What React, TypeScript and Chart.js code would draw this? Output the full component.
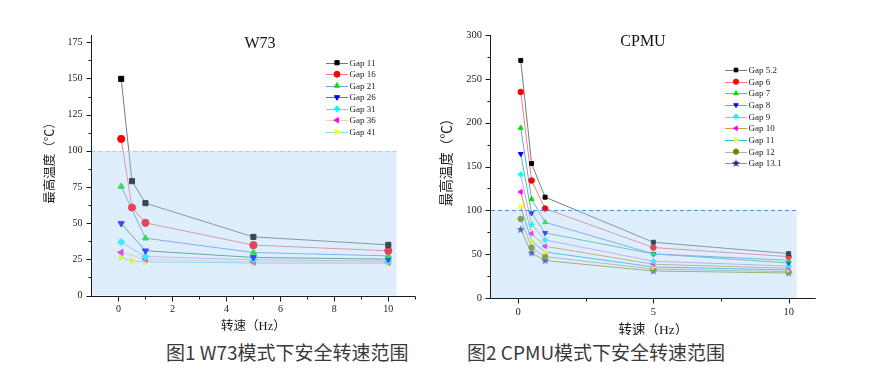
import React, { useEffect, useRef } from 'react';
import { Chart, registerables } from 'chart.js';
import { drawPoint } from 'chart.js/helpers';

Chart.register(...registerables);

// ---------------- Data: W73 ----------------
const W73_SPEEDS_FULL = [0.1, 0.5, 1, 5, 10];
const W73_SPEEDS_SHORT = [0.1, 1, 5, 10];
const W73_GAP11 = [149.7, 79, 63.8, 40.5, 35];
const W73_GAP16 = [108.2, 60.8, 50.2, 34.8, 30.9];
const W73_GAP21 = [75.3, 39.6, 29.7, 27.4];
const W73_GAP26 = [49.8, 30.9, 26.3, 25.1];
const W73_GAP31 = [36.9, 26.9, 24.7, 23.7];
const W73_GAP36 = [29.8, 25.1, 23.2, 23.0];
const W73_GAP41 = [26.2, 23.8, 23.3, 22.4, 22.3];
const W73_LABELS = ['Gap 11', 'Gap 16', 'Gap 21', 'Gap 26', 'Gap 31', 'Gap 36', 'Gap 41'];
const W73_X_TICKS = [0, 2, 4, 6, 8, 10];
const W73_Y_TICKS = [0, 25, 50, 75, 100, 125, 150, 175];

// ---------------- Data: CPMU ----------------
const CPMU_SPEEDS = [0.1, 0.5, 1, 5, 10];
const CPMU_GAP5_2 = [271, 153.4, 115, 63.6, 50.7];
const CPMU_GAP6 = [235, 134, 102, 57.5, 47.2];
const CPMU_GAP7 = [194, 112.7, 86.4, 50.3, 43];
const CPMU_GAP8 = [164.4, 96.7, 74.2, 50.3, 40];
const CPMU_GAP9 = [140.9, 83.8, 66.2, 41.9, 36.5];
const CPMU_GAP10 = [121, 73.5, 59, 38.5, 34];
const CPMU_GAP11 = [104, 65, 52.5, 35.4, 32];
const CPMU_GAP12 = [90.2, 57.5, 47.2, 33, 30];
const CPMU_GAP13_1 = [78, 51.4, 42.7, 30.8, 28.5];
const CPMU_LABELS = ['Gap 5.2', 'Gap 6', 'Gap 7', 'Gap 8', 'Gap 9', 'Gap 10', 'Gap 11', 'Gap 12', 'Gap 13.1'];
const CPMU_X_TICKS = [0, 5, 10];
const CPMU_Y_TICKS = [0, 50, 100, 150, 200, 250, 300];

const SAFE_LIMIT = 100;
const SAFE_SPEED_END = 10.3;

function makeStar(color: string) {
  const c = document.createElement('canvas');
  c.width = 9;
  c.height = 9;
  const ctx = c.getContext('2d')!;
  ctx.fillStyle = color;
  ctx.beginPath();
  for (let i = 0; i < 10; i++) {
    const r = i % 2 === 0 ? 4.2 : 1.8;
    const a = -Math.PI / 2 + (i * Math.PI) / 5;
    const px = 4.5 + r * Math.cos(a);
    const py = 4.5 + r * Math.sin(a);
    if (i === 0) ctx.moveTo(px, py);
    else ctx.lineTo(px, py);
  }
  ctx.closePath();
  ctx.fill();
  return c;
}

type Series = {
  label: string;
  speeds: number[];
  temps: number[];
  line: string;
  marker: string;
  style: any;
  rotation: number;
};

type Panel = {
  title: string;
  titleX: number;
  titleY: number;
  series: Series[];
  xMin: number;
  xMax: number;
  yMin: number;
  yMax: number;
  xTicks: number[];
  yTicks: number[];
  xMinorStep: number;
  yMinorStep: number;
  yAxisW: number;
  xAxisH: number;
  padRight: number;
  padTop: number;
  pointRadius: number;
  legendX: number;
  legendY: number;
  legendDy: number;
  legendRadius: number;
  dashColor: string;
  tickFont: number;
  yTitleX: number;
  yTitleY: number;
  xTitleY: number;
  axisTitleFont: number;
  yTitleFont: number;
};

const SERIF = '"Liberation Serif", "Times New Roman", serif';
const CJK = '"Liberation Serif", "Noto Sans CJK SC", sans-serif';
const CJK_ONLY = '"Noto Sans CJK SC", sans-serif';

function decorPlugin(p: Panel) {
  return {
    id: 'decor',
    afterDatasetsDraw(chart: any) {
      const { ctx, chartArea, scales } = chart;
      const x = scales.x;
      const y = scales.y;
      const x0 = chartArea.left;
      const x1 = x.getPixelForValue(SAFE_SPEED_END);
      const yTop = y.getPixelForValue(SAFE_LIMIT);
      const yBot = chartArea.bottom;
      ctx.save();
      ctx.fillStyle = 'rgba(160,205,250,0.35)';
      ctx.fillRect(x0, yTop, x1 - x0, yBot - yTop);
      ctx.strokeStyle = p.dashColor;
      ctx.lineWidth = 1;
      ctx.setLineDash([4, 3]);
      ctx.beginPath();
      ctx.moveTo(x0, Math.round(yTop) + 0.5);
      ctx.lineTo(x1, Math.round(yTop) + 0.5);
      ctx.stroke();
      ctx.restore();
    },
    afterDraw(chart: any) {
      const { ctx, chartArea, scales } = chart;
      const x = scales.x;
      const y = scales.y;
      ctx.save();
      // axes
      ctx.strokeStyle = '#1a1a1a';
      ctx.lineWidth = 1;
      const ax = Math.round(chartArea.left) - 0.5;
      const ay = Math.round(chartArea.bottom) + 0.5;
      ctx.beginPath();
      ctx.moveTo(ax, chartArea.top);
      ctx.lineTo(ax, ay);
      ctx.lineTo(chartArea.right, ay);
      ctx.stroke();
      // y ticks
      for (let v = p.yMin; v <= p.yMax + 1e-6; v += p.yMinorStep) {
        const major = p.yTicks.some((t) => Math.abs(t - v) < 1e-6);
        const py = Math.round(y.getPixelForValue(v)) + 0.5;
        ctx.beginPath();
        ctx.moveTo(ax, py);
        ctx.lineTo(ax - (major ? 5 : 3), py);
        ctx.stroke();
      }
      // x ticks
      for (let v = 0; v <= p.xMax + 1e-6; v += p.xMinorStep) {
        const major = p.xTicks.some((t) => Math.abs(t - v) < 1e-6);
        const px = Math.round(x.getPixelForValue(v)) + 0.5;
        ctx.beginPath();
        ctx.moveTo(px, ay);
        ctx.lineTo(px, ay + (major ? 5 : 3));
        ctx.stroke();
      }
      // title
      ctx.fillStyle = '#111';
      ctx.font = `16px ${SERIF}`;
      ctx.textAlign = 'center';
      ctx.textBaseline = 'middle';
      ctx.fillText(p.title, p.titleX, p.titleY);
      // axis titles
      ctx.font = `${p.axisTitleFont}px ${CJK}`;
      ctx.fillStyle = '#1a1a1a';
      ctx.fillText('转速（Hz）', (chartArea.left + chartArea.right) / 2, p.xTitleY);
      ctx.save();
      ctx.translate(p.yTitleX, p.yTitleY);
      ctx.rotate(-Math.PI / 2);
      ctx.font = `${p.yTitleFont}px ${CJK_ONLY}`;
      ctx.fillText('最高温度（℃）', 0, 0);
      ctx.restore();
      // legend
      ctx.font = `9px ${SERIF}`;
      ctx.textAlign = 'left';
      p.series.forEach((s, i) => {
        const ly = p.legendY + i * p.legendDy;
        ctx.strokeStyle = s.line;
        ctx.lineWidth = 1;
        ctx.beginPath();
        ctx.moveTo(p.legendX, Math.round(ly) + 0.5);
        ctx.lineTo(p.legendX + 22, Math.round(ly) + 0.5);
        ctx.stroke();
        ctx.fillStyle = s.marker;
        ctx.strokeStyle = s.marker;
        drawPoint(ctx, { pointStyle: s.style, rotation: s.rotation, radius: p.legendRadius, borderWidth: 1 } as any, p.legendX + 11, ly);
        ctx.fillStyle = '#222';
        ctx.fillText(s.label, p.legendX + 23.5, ly + 0.5);
      });
      ctx.restore();
    },
  };
}

function buildConfig(p: Panel): any {
  return {
    type: 'line',
    data: {
      datasets: p.series.map((s) => ({
        label: s.label,
        data: s.speeds.map((sp, i) => ({ x: sp, y: s.temps[i] })),
        borderColor: s.line,
        borderWidth: 1,
        pointStyle: s.style,
        pointRotation: s.rotation,
        pointRadius: p.pointRadius,
        pointBackgroundColor: s.marker,
        pointBorderColor: s.marker,
        pointBorderWidth: 1,
        tension: 0,
        fill: false,
      })),
    },
    options: {
      animation: false,
      responsive: false,
      maintainAspectRatio: false,
      devicePixelRatio: 1,
      layout: { padding: { left: 0, right: p.padRight, top: p.padTop, bottom: 0 } },
      plugins: { legend: { display: false }, tooltip: { enabled: false }, title: { display: false } },
      scales: {
        x: {
          type: 'linear',
          min: p.xMin,
          max: p.xMax,
          grid: { display: false, drawTicks: false },
          border: { display: false },
          ticks: { font: { family: SERIF, size: p.tickFont }, color: '#222', padding: 8, maxRotation: 0, autoSkip: false },
          afterBuildTicks: (sc: any) => {
            sc.ticks = p.xTicks.map((v) => ({ value: v }));
          },
          afterFit: (sc: any) => {
            sc.height = p.xAxisH;
            sc.paddingLeft = 0;
            sc.paddingRight = 0;
          },
        },
        y: {
          type: 'linear',
          min: p.yMin,
          max: p.yMax,
          grid: { display: false, drawTicks: false },
          border: { display: false },
          ticks: { font: { family: SERIF, size: p.tickFont }, color: '#222', padding: 9, autoSkip: false },
          afterBuildTicks: (sc: any) => {
            sc.ticks = p.yTicks.map((v) => ({ value: v }));
          },
          afterFit: (sc: any) => {
            sc.width = p.yAxisW;
            sc.paddingTop = 0;
            sc.paddingBottom = 0;
          },
        },
      },
    },
    plugins: [decorPlugin(p)],
  };
}

function ChartPanel({ panel, left, top, width, height }: { panel: () => Panel; left: number; top: number; width: number; height: number }) {
  const ref = useRef<HTMLCanvasElement | null>(null);
  useEffect(() => {
    if (!ref.current) return;
    const chart = new Chart(ref.current, buildConfig(panel()));
    return () => chart.destroy();
  }, []);
  return (
    <canvas
      ref={ref}
      width={width}
      height={height}
      style={{ position: 'absolute', left, top, width, height }}
    />
  );
}

function w73Panel(): Panel {
  const F = W73_SPEEDS_FULL;
  const S = W73_SPEEDS_SHORT;
  const temps = [W73_GAP11, W73_GAP16, W73_GAP21, W73_GAP26, W73_GAP31, W73_GAP36, W73_GAP41];
  const speeds = [F, F, S, S, S, S, F];
  const lines = ['#7a7a7a', '#f08080', '#6f9fef', '#3a9a6a', '#c8a8f0', '#f2d2a8', '#80e0e8'];
  const markers = ['#000000', '#ff0000', '#00e000', '#0000ff', '#00ffff', '#ff00ff', '#ffff00'];
  const styles = ['rect', 'circle', 'triangle', 'triangle', 'rectRot', 'triangle', 'triangle'];
  const rots = [0, 0, 0, 180, 0, 270, 90];
  return {
    title: 'W73',
    titleX: 230,
    titleY: 19,
    series: W73_LABELS.map((label, i) => ({
      label,
      speeds: speeds[i],
      temps: temps[i],
      line: lines[i],
      marker: markers[i],
      style: styles[i],
      rotation: rots[i],
    })),
    xMin: -1,
    xMax: 11,
    yMin: 0,
    yMax: 180,
    xTicks: W73_X_TICKS,
    yTicks: W73_Y_TICKS,
    xMinorStep: 1,
    yMinorStep: 12.5,
    yAxisW: 61.5,
    xAxisH: 39.5,
    padRight: 9.7,
    padTop: 10,
    pointRadius: 3.6,
    legendX: 296,
    legendY: 37.7,
    legendDy: 11.5,
    legendRadius: 3,
    dashColor: '#a6cdf2',
    tickFont: 10,
    yTitleX: 19,
    yTitleY: 135,
    xTitleY: 302,
    axisTitleFont: 12.5,
    yTitleFont: 12.5,
  };
}

function cpmuPanel(): Panel {
  const temps = [CPMU_GAP5_2, CPMU_GAP6, CPMU_GAP7, CPMU_GAP8, CPMU_GAP9, CPMU_GAP10, CPMU_GAP11, CPMU_GAP12, CPMU_GAP13_1];
  const lines = ['#7a7a7a', '#f08080', '#6f9fef', '#50c090', '#c8a0f0', '#d4a040', '#20c0d0', '#b8a8a8', '#a0a030'];
  const markers = ['#000000', '#ff0000', '#00e000', '#0000ff', '#00ffff', '#ff00ff', '#ffff00', '#808000', '#1f2a90'];
  const star = makeStar('#1f2a90');
  const styles: any[] = ['rect', 'circle', 'triangle', 'triangle', 'rectRot', 'triangle', 'triangle', 'circle', star];
  const rots = [0, 0, 0, 180, 0, 270, 90, 0, 0];
  return {
    title: 'CPMU',
    titleX: 213,
    titleY: 17,
    series: CPMU_LABELS.map((label, i) => ({
      label,
      speeds: CPMU_SPEEDS,
      temps: temps[i],
      line: lines[i],
      marker: markers[i],
      style: styles[i],
      rotation: rots[i],
    })),
    xMin: -1,
    xMax: 11,
    yMin: 0,
    yMax: 300,
    xTicks: CPMU_X_TICKS,
    yTicks: CPMU_Y_TICKS,
    xMinorStep: 2.5,
    yMinorStep: 25,
    yAxisW: 61,
    xAxisH: 37,
    padRight: 14.3,
    padTop: 10,
    pointRadius: 2.8,
    legendX: 295,
    legendY: 45,
    legendDy: 11.67,
    legendRadius: 2.6,
    dashColor: '#4a90e2',
    tickFont: 10.5,
    yTitleX: 16,
    yTitleY: 134,
    xTitleY: 305,
    axisTitleFont: 13.5,
    yTitleFont: 13.5,
  };
}

const captionStyle: React.CSSProperties = {
  position: 'absolute',
  top: 342,
  height: 20,
  lineHeight: '20px',
  fontSize: 19,
  fontFamily: '"Noto Sans CJK SC", "Noto Sans", sans-serif',
  color: '#3a3a3a',
  whiteSpace: 'nowrap',
};

export default function App() {
  return (
    <div style={{ position: 'absolute', left: 0, top: 0, width: 877, height: 382, background: '#fff' }}>
      <ChartPanel panel={w73Panel} left={30} top={25} width={395} height={310} />
      <ChartPanel panel={cpmuPanel} left={430} top={25} width={400} height={310} />
      <div style={{ ...captionStyle, left: 166 }}>图1 W73模式下安全转速范围</div>
      <div style={{ ...captionStyle, left: 467 }}>图2 CPMU模式下安全转速范围</div>
    </div>
  );
}
